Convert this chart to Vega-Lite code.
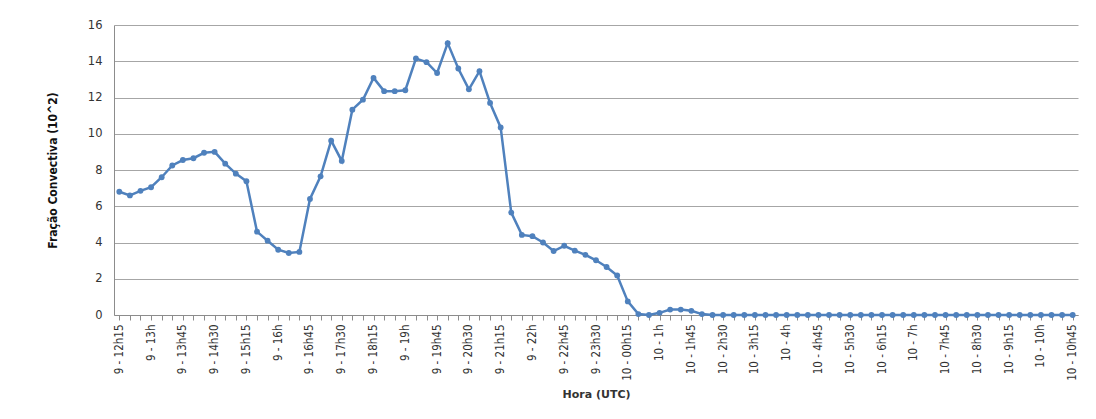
{
  "$schema": "https://vega.github.io/schema/vega-lite/v6.json",
  "width": 964,
  "height": 290,
  "autosize": "none",
  "padding": {"left": 114, "top": 25, "right": 18, "bottom": 104},
  "background": "white",
  "config": {
    "view": {"stroke": null},
    "axis": {"gridColor": "#a6a6a6", "gridWidth": 1, "domainColor": "#8c8c8c", "tickColor": "#8c8c8c"}
  },
  "data": {"values": [
    {"hora": "9 - 12h15", "v": 6.8},
    {"hora": "9 - 12h30", "v": 6.6},
    {"hora": "9 - 12h45", "v": 6.85},
    {"hora": "9 - 13h", "v": 7.05},
    {"hora": "9 - 13h15", "v": 7.6},
    {"hora": "9 - 13h30", "v": 8.25},
    {"hora": "9 - 13h45", "v": 8.55},
    {"hora": "9 - 14h", "v": 8.65},
    {"hora": "9 - 14h15", "v": 8.95},
    {"hora": "9 - 14h30", "v": 9.0},
    {"hora": "9 - 14h45", "v": 8.35},
    {"hora": "9 - 15h", "v": 7.8},
    {"hora": "9 - 15h15", "v": 7.38},
    {"hora": "9 - 15h30", "v": 4.6},
    {"hora": "9 - 15h45", "v": 4.1},
    {"hora": "9 - 16h", "v": 3.6},
    {"hora": "9 - 16h15", "v": 3.42},
    {"hora": "9 - 16h30", "v": 3.48},
    {"hora": "9 - 16h45", "v": 6.4},
    {"hora": "9 - 17h", "v": 7.65},
    {"hora": "9 - 17h15", "v": 9.62},
    {"hora": "9 - 17h30", "v": 8.5},
    {"hora": "9 - 17h45", "v": 11.33},
    {"hora": "9 - 18h", "v": 11.88},
    {"hora": "9 - 18h15", "v": 13.08},
    {"hora": "9 - 18h30", "v": 12.35},
    {"hora": "9 - 18h45", "v": 12.35},
    {"hora": "9 - 19h", "v": 12.4},
    {"hora": "9 - 19h15", "v": 14.15},
    {"hora": "9 - 19h30", "v": 13.95},
    {"hora": "9 - 19h45", "v": 13.35},
    {"hora": "9 - 20h", "v": 15.0},
    {"hora": "9 - 20h15", "v": 13.6},
    {"hora": "9 - 20h30", "v": 12.45},
    {"hora": "9 - 20h45", "v": 13.45},
    {"hora": "9 - 21h", "v": 11.7},
    {"hora": "9 - 21h15", "v": 10.35},
    {"hora": "9 - 21h30", "v": 5.65},
    {"hora": "9 - 21h45", "v": 4.42},
    {"hora": "9 - 22h", "v": 4.35},
    {"hora": "9 - 22h15", "v": 4.0},
    {"hora": "9 - 22h30", "v": 3.53},
    {"hora": "9 - 22h45", "v": 3.82},
    {"hora": "9 - 23h", "v": 3.55},
    {"hora": "9 - 23h15", "v": 3.32},
    {"hora": "9 - 23h30", "v": 3.02},
    {"hora": "9 - 23h45", "v": 2.65},
    {"hora": "10 - 00h", "v": 2.18},
    {"hora": "10 - 00h15", "v": 0.75},
    {"hora": "10 - 00h30", "v": 0.05},
    {"hora": "10 - 00h45", "v": 0.0},
    {"hora": "10 - 1h", "v": 0.12},
    {"hora": "10 - 1h15", "v": 0.3},
    {"hora": "10 - 1h30", "v": 0.3},
    {"hora": "10 - 1h45", "v": 0.23},
    {"hora": "10 - 2h", "v": 0.05},
    {"hora": "10 - 2h15", "v": 0},
    {"hora": "10 - 2h30", "v": 0},
    {"hora": "10 - 2h45", "v": 0},
    {"hora": "10 - 3h", "v": 0},
    {"hora": "10 - 3h15", "v": 0},
    {"hora": "10 - 3h30", "v": 0},
    {"hora": "10 - 3h45", "v": 0},
    {"hora": "10 - 4h", "v": 0},
    {"hora": "10 - 4h15", "v": 0},
    {"hora": "10 - 4h30", "v": 0},
    {"hora": "10 - 4h45", "v": 0},
    {"hora": "10 - 5h", "v": 0},
    {"hora": "10 - 5h15", "v": 0},
    {"hora": "10 - 5h30", "v": 0},
    {"hora": "10 - 5h45", "v": 0},
    {"hora": "10 - 6h", "v": 0},
    {"hora": "10 - 6h15", "v": 0},
    {"hora": "10 - 6h30", "v": 0},
    {"hora": "10 - 6h45", "v": 0},
    {"hora": "10 - 7h", "v": 0},
    {"hora": "10 - 7h15", "v": 0},
    {"hora": "10 - 7h30", "v": 0},
    {"hora": "10 - 7h45", "v": 0},
    {"hora": "10 - 8h", "v": 0},
    {"hora": "10 - 8h15", "v": 0},
    {"hora": "10 - 8h30", "v": 0},
    {"hora": "10 - 8h45", "v": 0},
    {"hora": "10 - 9h", "v": 0},
    {"hora": "10 - 9h15", "v": 0},
    {"hora": "10 - 9h30", "v": 0},
    {"hora": "10 - 9h45", "v": 0},
    {"hora": "10 - 10h", "v": 0},
    {"hora": "10 - 10h15", "v": 0},
    {"hora": "10 - 10h30", "v": 0},
    {"hora": "10 - 10h45", "v": 0}
  ]},
  "mark": {"type": "line", "color": "#4f81bd", "strokeWidth": 2.5, "point": {"filled": true, "size": 34, "color": "#4f81bd"}},
  "encoding": {
    "x": {
      "field": "hora", "type": "ordinal", "sort": null,
      "scale": {"type": "point", "padding": 0.5},
      "axis": {
        "title": "Hora (UTC)",
        "titleFont": "DejaVu Sans", "titleFontSize": 11, "titleFontWeight": "bold", "titleColor": "#333333",
        "titlePadding": 8,
        "grid": false,
        "labelAngle": -90, "labelAlign": "right", "labelBaseline": "middle",
        "labelFont": "Liberation Sans Narrow, DejaVu Sans Condensed, sans-serif",
        "labelFontSize": 11.5, "labelColor": "#333333", "labelPadding": 4,
        "labelOverlap": false,
        "tickSize": 5,
        "labelExpr": "indexof(['9 - 12h15','9 - 13h','9 - 13h45','9 - 14h30','9 - 15h15','9 - 16h','9 - 16h45','9 - 17h30','9 - 18h15','9 - 19h','9 - 19h45','9 - 20h30','9 - 21h15','9 - 22h','9 - 22h45','9 - 23h30','10 - 00h15','10 - 1h','10 - 1h45','10 - 2h30','10 - 3h15','10 - 4h','10 - 4h45','10 - 5h30','10 - 6h15','10 - 7h','10 - 7h45','10 - 8h30','10 - 9h15','10 - 10h','10 - 10h45'], datum.value) >= 0 ? datum.value : ''"
      }
    },
    "y": {
      "field": "v", "type": "quantitative",
      "scale": {"domain": [0, 16], "nice": false},
      "axis": {
        "title": "Fração Convectiva (10^2)",
        "titleFont": "DejaVu Sans Condensed, sans-serif",
        "titleFontSize": 12, "titleFontWeight": "bold", "titleColor": "#111111",
        "titlePadding": 28,
        "values": [0, 2, 4, 6, 8, 10, 12, 14, 16],
        "labelFont": "DejaVu Sans", "labelFontSize": 11.5, "labelColor": "#333333",
        "labelPadding": 12,
        "ticks": false,
        "grid": true
      }
    }
  }
}
